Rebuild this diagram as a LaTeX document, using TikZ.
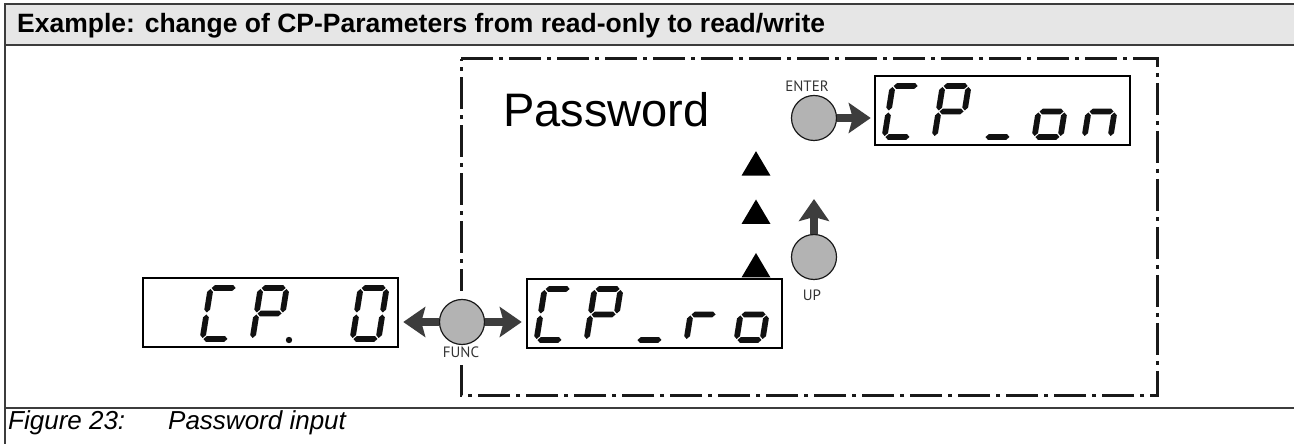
\documentclass[tikz,border=0pt]{standalone}
\usepackage{fontspec}
\setmainfont{Liberation Sans}
\newfontfamily\btnfont{PT Sans}
\usetikzlibrary{arrows.meta}
\definecolor{hdrgray}{HTML}{E6E6E6}
\definecolor{framegray}{HTML}{3C3C3C}
\definecolor{arrowgray}{HTML}{3D3D3D}
\definecolor{btngray}{HTML}{B3B3B3}
\definecolor{lblgray}{HTML}{333333}
\definecolor{segblack}{HTML}{111111}
\makeatletter
\def\seg@h#1#2#3{\fill[segblack] (#1,#3) -- (#1+2.9,#3+2.9) -- (#2-2.9,#3+2.9) -- (#2,#3) -- (#2-2.9,#3-2.9) -- (#1+2.9,#3-2.9) -- cycle;}
\def\seg@v#1#2#3{\fill[segblack] (#1,#2) -- (#1+2.9,#2+2.9) -- (#1+2.9,#3-2.9) -- (#1,#3) -- (#1-2.9,#3-2.9) -- (#1-2.9,#2+2.9) -- cycle;}
\def\seg@a{\seg@h{4}{28}{54}}
\def\seg@b{\seg@v{29}{29.5}{53}}
\def\seg@c{\seg@v{29}{4}{27.5}}
\def\seg@d{\seg@h{4}{28}{3}}
\def\seg@e{\seg@v{3}{4}{27.5}}
\def\seg@f{\seg@v{3}{29.5}{53}}
\def\seg@g{\seg@h{4}{28}{28.5}}
\newcommand\ssdigit[3]{\begin{scope}[shift={(#1,#2)},xslant=0.16]\foreach \s in {#3}{\csname seg@\s\endcsname}\end{scope}}
\makeatother
\tikzset{
  frameline/.style={draw=framegray, line width=2pt},
  display/.style={draw=black, line width=2.5pt, fill=white, minimum width=255pt, minimum height=69pt, inner sep=0pt},
  button/.style={circle, draw=black!90, line width=1.2pt, fill=btngray, minimum size=45pt, inner sep=0pt},
  btnlabel/.style={inner sep=0pt, text=lblgray, font=\btnfont\fontsize{15}{17}\selectfont},
  bigarrow/.style={draw=arrowgray, line width=8.5pt, -{Stealth[length=22pt, width=30pt, inset=4pt, fill=arrowgray]}},
  dashbox/.style={draw=black!90, line width=3pt, dash pattern=on 32pt off 6pt on 4pt off 6pt},
  tri/.style={fill=black}
}
\begin{document}
\begin{tikzpicture}[x=1pt,y=1pt]
\useasboundingbox (0,0) rectangle (1294,444);
% frame
\fill[hdrgray] (5,399) rectangle (1294,440);
\draw[frameline] (1294,440) -- (5,440) -- (5,0);
\draw[frameline] (5,399) -- (1294,399);
\draw[frameline] (5,36) -- (1294,36);
\node[anchor=base west, inner sep=0pt] (title) at (17,411) {\fontsize{26.5}{30}\selectfont\bfseries Example: change of CP-Parameters from read-only to read/write};
\node[anchor=base west, inner sep=0pt] (figno) at (8,14) {\fontsize{26}{30}\selectfont\itshape Figure 23:};
\node[anchor=base west, inner sep=0pt] (figcap) at (168,14) {\fontsize{26}{30}\selectfont\itshape Password input};
% dashed region
\draw[dashbox] (461,385) -- (1157,385) -- (1157,48) -- (461,48) -- cycle;
\fill[white] (454,81) rectangle (468,153);
\node[anchor=base west, inner sep=0pt] (pw) at (503,317) {\fontsize{47}{50}\selectfont Password};
% triangles
\fill[tri] (741.5,268.3) -- (770.5,268.3) -- (756,292.8) -- cycle;
\fill[tri] (741.5,220) -- (770.5,220) -- (756,244.5) -- cycle;
\fill[tri] (741.5,166.5) -- (770.5,166.5) -- (756,191) -- cycle;
% displays
\node[display] (cpzero) at (270.5,131.5) {};
\node[display] (cpro) at (654.5,130.5) {};
\node[display] (cpon) at (1002.5,333.5) {};
% CP. 0
\ssdigit{199}{102}{a,d,e,f}
\ssdigit{249}{102}{a,b,e,f,g}
\fill[segblack] (289,104) circle (3.2);
\ssdigit{349}{102}{a,b,c,d,e,f}
% CP_ro
\ssdigit{533}{101}{a,d,e,f}
\ssdigit{583}{101}{a,b,e,f,g}
\ssdigit{633}{101}{d}
\ssdigit{683}{101}{e,g}
\ssdigit{733}{101}{c,d,e,g}
% CP_on
\ssdigit{881}{304}{a,d,e,f}
\ssdigit{931}{304}{a,b,e,f,g}
\ssdigit{981}{304}{d}
\ssdigit{1031}{304}{c,d,e,g}
\ssdigit{1081}{304}{c,e,g}
% buttons
\node[button] (func) at (462,122) {};
\node[button] (enter) at (814,326) {};
\node[button] (up) at (814,187) {};
\node[btnlabel] (funclbl) at (461,92) {FUNC};
\node[btnlabel] (enterlbl) at (807,358) {ENTER};
\node[btnlabel] (uplbl) at (812,149) {UP};
\coordinate (uptip) at (814,245);
% arrows
\draw[bigarrow, shorten >=4pt] (func.west) -- (func.west -| cpzero.east);
\draw[bigarrow, shorten >=4pt] (func.east) -- (func.east -| cpro.west);
\draw[bigarrow, shorten >=3pt] (enter.east) -- (enter.east -| cpon.west);
\draw[bigarrow] (up.north) -- (uptip);
\end{tikzpicture}
\end{document}
